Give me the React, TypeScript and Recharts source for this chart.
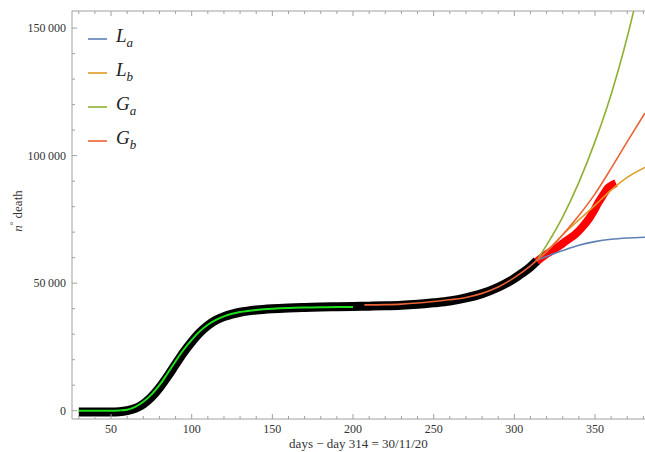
import { LineChart, Line, XAxis, YAxis } from "recharts"

// observed deaths (first + second wave), black band
const obsDays = [30, 40, 50, 55, 60, 65, 70, 75, 80, 85, 90, 95, 100, 105, 110, 115, 120, 125, 130, 140, 150, 160, 170, 180, 190, 200, 210, 220, 230, 240, 250, 260, 270, 280, 290, 300, 305, 310, 314]
const obsDeaths = [-500, -500, -500, -400, 0, 900, 2600, 5300, 9000, 13400, 18200, 22900, 27000, 30600, 33400, 35500, 36900, 37900, 38600, 39500, 40000, 40300, 40500, 40700, 40800, 40900, 41000, 41100, 41300, 41700, 42300, 43000, 44200, 45900, 48400, 51800, 54000, 56400, 58800]

// new data after day 314 (red band)
const newDays = [314, 318, 322, 326, 330, 334, 338, 342, 346, 349, 352, 355, 358, 361, 363]
const newDeaths = [58500, 60500, 62200, 63800, 65600, 67400, 69300, 71900, 75000, 78000, 81500, 84500, 87300, 88600, 89200]

// first wave fit (bright green)
const fit1Days = [30, 40, 50, 55, 60, 65, 70, 75, 80, 85, 90, 95, 100, 105, 110, 115, 120, 125, 130, 140, 150, 160, 170, 180, 190, 200]
const fit1Vals = [0, 0, 0, 100, 400, 1500, 3500, 6300, 10000, 14600, 19400, 23900, 27800, 31100, 33700, 35600, 37000, 38000, 38700, 39500, 40000, 40300, 40450, 40550, 40650, 40700]

// forecast curves
const fcDays = [314, 320, 330, 340, 350, 360, 370, 381]
const laVals = [59000, 60500, 62800, 64900, 66300, 67200, 67700, 68000]
const lbVals = [59000, 62500, 69000, 74800, 80500, 86500, 91500, 95400]
const gaDays = [314, 320, 330, 340, 350, 360, 370, 380]
const gaVals = [59000, 64900, 76000, 89500, 105500, 124000, 146500, 173000]
const gbDays = [207, 220, 230, 240, 250, 260, 270, 280, 290, 300, 310, 314, 320, 330, 340, 350, 360, 370, 381]
const gbVals = [41500, 41600, 41800, 42200, 42800, 43500, 44400, 46000, 48500, 52200, 56800, 59000, 62300, 69000, 76500, 85000, 95000, 105500, 116700]

const xTicks = [30, 40, 50, 60, 70, 80, 90, 100, 110, 120, 130, 140, 150, 160, 170, 180, 190, 200, 210, 220, 230, 240, 250, 260, 270, 280, 290, 300, 310, 320, 330, 340, 350, 360, 370, 380]
const yTicks = [0, 10000, 20000, 30000, 40000, 50000, 60000, 70000, 80000, 90000, 100000, 110000, 120000, 130000, 140000, 150000]

const legendItems = [
  { name: "L", sub: "a", color: "#5e81b5" },
  { name: "L", sub: "b", color: "#e19c24" },
  { name: "G", sub: "a", color: "#8fb032" },
  { name: "G", sub: "b", color: "#eb6235" },
]

const zip = (xs: number[], ys: number[]) => xs.map((x, i) => ({ x, y: ys[i] }))

const FONT = "'Liberation Serif', 'DejaVu Serif', serif"
const AXIS = "#a0a0a0"
const LABEL = "#333"

const fmt = (v: number) => {
  if (v === 0) return "0"
  const s = String(v)
  return s.slice(0, s.length - 3) + "\u2009" + s.slice(-3)
}

function BottomTick(props: any) {
  const { x, y, payload } = props
  const major = payload.value % 50 === 0
  return (
    <g>
      <line x1={x} x2={x} y1={y} y2={y - (major ? 5 : 3)} stroke={AXIS} />
      {major && (
        <text x={x} y={y + 14} textAnchor="middle" fontSize={12} fontFamily={FONT} fill={LABEL}>
          {payload.value}
        </text>
      )}
    </g>
  )
}

function TopTick(props: any) {
  const { x, y, payload } = props
  const major = payload.value % 50 === 0
  return <line x1={x} x2={x} y1={y} y2={y + (major ? 5 : 3)} stroke={AXIS} />
}

function LeftTick(props: any) {
  const { x, y, payload } = props
  const major = payload.value % 50000 === 0
  return (
    <g>
      <line x1={x} x2={x + (major ? 5 : 3)} y1={y} y2={y} stroke={AXIS} />
      {major && (
        <text x={x - 6} y={y + 4} textAnchor="end" fontSize={12} fontFamily={FONT} fill={LABEL}>
          {fmt(payload.value)}
        </text>
      )}
    </g>
  )
}

function ChartLegend() {
  return (
    <div style={{ position: "absolute", left: 88, top: 22, fontFamily: FONT }}>
      {legendItems.map((it, i) => (
        <div key={i} style={{ display: "flex", alignItems: "center", height: 34 }}>
          <svg width={19} height={4} style={{ marginRight: 9 }}>
            <line x1={0} x2={19} y1={2} y2={2} stroke={it.color} strokeWidth={1.6} />
          </svg>
          <span style={{ fontStyle: "italic", fontSize: 19, color: "#222", lineHeight: "20px" }}>
            {it.name}
            <sub style={{ fontSize: 13 }}>{it.sub}</sub>
          </span>
        </div>
      ))}
    </div>
  )
}

export default function App() {
  return (
    <div style={{ position: "absolute", left: 0, top: 0, width: 645, height: 452, background: "#fff" }}>
      <LineChart width={645} height={452} margin={{ top: 0, right: 0, bottom: 0, left: 0 }}>
        <XAxis
          dataKey="x"
          type="number"
          domain={[25.8, 381]}
          allowDataOverflow
          ticks={xTicks}
          interval={0}
          tickLine={false}
          tickSize={0}
          tickMargin={0}
          height={33}
          stroke={AXIS}
          tick={<BottomTick />}
        />
        <XAxis
          xAxisId="top"
          orientation="top"
          dataKey="x"
          type="number"
          domain={[25.8, 381]}
          allowDataOverflow
          ticks={xTicks}
          interval={0}
          tickLine={false}
          tickSize={0}
          tickMargin={0}
          height={11}
          stroke={AXIS}
          tick={<TopTick />}
        />
        <YAxis
          type="number"
          domain={[-3250, 156700]}
          allowDataOverflow
          ticks={yTicks}
          interval={0}
          tickLine={false}
          tickSize={0}
          tickMargin={0}
          width={72}
          stroke={AXIS}
          tick={<LeftTick />}
        />
        <Line data={zip(obsDays, obsDeaths)} dataKey="y" type="monotone" stroke="#000" strokeWidth={9} dot={false} isAnimationActive={false} />
        <Line data={zip(newDays, newDeaths)} dataKey="y" type="monotone" stroke="#ff0000" strokeWidth={8} dot={false} isAnimationActive={false} />
        <Line data={zip(fit1Days, fit1Vals)} dataKey="y" type="monotone" stroke="#1de01d" strokeWidth={2} dot={false} isAnimationActive={false} />
        <Line data={zip(fcDays, laVals)} dataKey="y" type="monotone" stroke="#5e81b5" strokeWidth={1.6} dot={false} isAnimationActive={false} />
        <Line data={zip(fcDays, lbVals)} dataKey="y" type="monotone" stroke="#e19c24" strokeWidth={1.6} dot={false} isAnimationActive={false} />
        <Line data={zip(gaDays, gaVals)} dataKey="y" type="monotone" stroke="#8fb032" strokeWidth={1.6} dot={false} isAnimationActive={false} />
        <Line data={zip(gbDays, gbVals)} dataKey="y" type="monotone" stroke="#eb6235" strokeWidth={1.6} dot={false} isAnimationActive={false} />
      </LineChart>
      <ChartLegend />
      <div style={{ position: "absolute", left: 72, width: 573, top: 436, textAlign: "center", fontFamily: FONT, fontSize: 13, color: LABEL }}>
        days − day 314 = 30/11/20
      </div>
      <div
        style={{
          position: "absolute",
          left: 17,
          top: 211,
          transform: "translate(-50%, -50%) rotate(-90deg)",
          whiteSpace: "nowrap",
          fontFamily: FONT,
          fontSize: 13,
          color: LABEL,
        }}
      >
        <i>n</i>
        <sup style={{ fontSize: 9 }}>°</sup> death
      </div>
    </div>
  )
}
